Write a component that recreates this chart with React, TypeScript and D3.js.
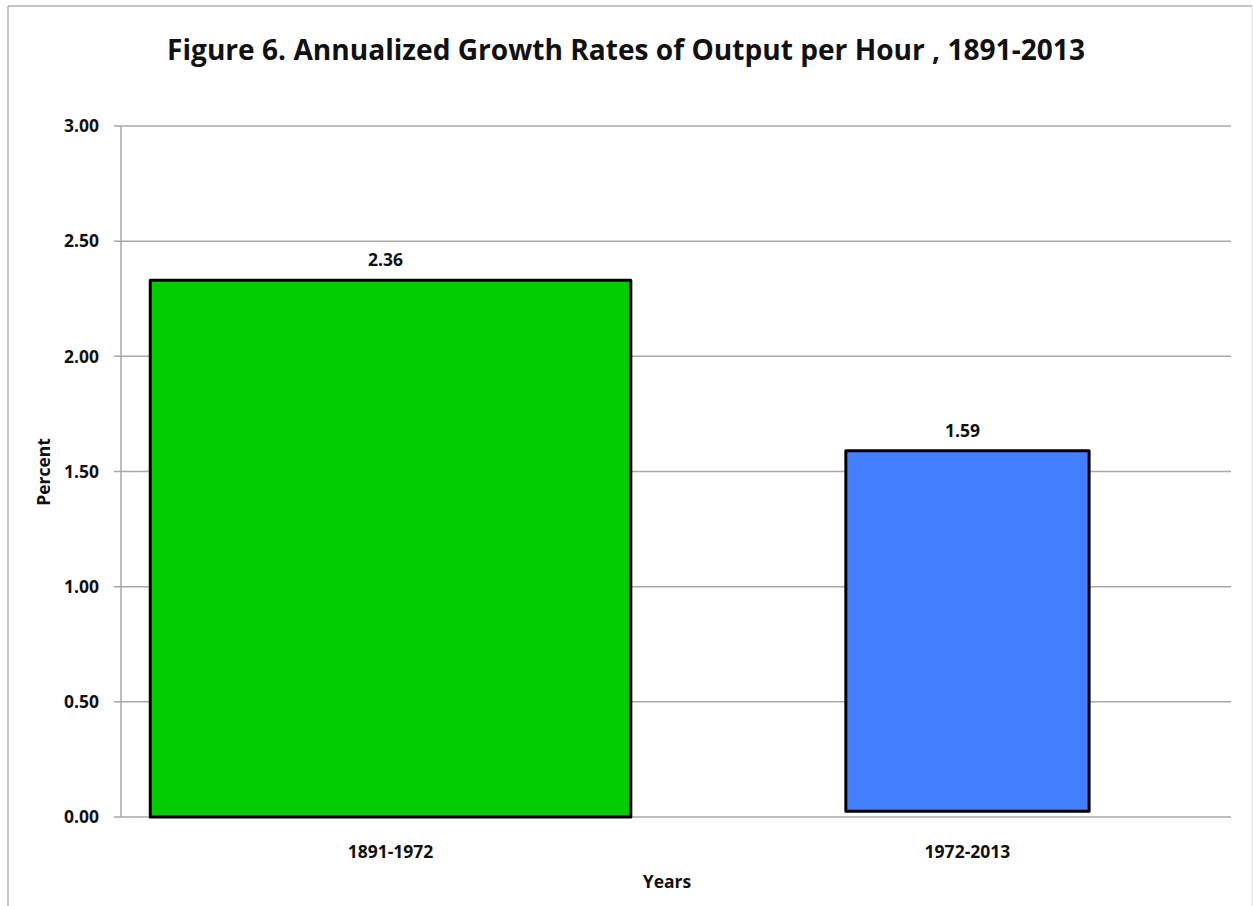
import React from "react";
import * as d3 from "d3";

const TITLE = "Figure 6. Annualized Growth Rates of Output per Hour , 1891-2013";
const categories = ["1891-1972", "1972-2013"];
const valueLabels = [2.36, 1.59];
const barTops = [2.33, 1.59];
const barBases = [0, 0.025];
const barColors = ["#00CC00", "#437EFF"];
const yTicks = [0, 0.5, 1, 1.5, 2, 2.5, 3];
const Y_LABEL = "Percent";
const X_LABEL = "Years";

const W = 1253;
const H = 906;
const M = { left: 121, right: 1231, top: 126, bottom: 817 };
const FONT = "'Open Sans', 'DejaVu Sans', sans-serif";

export default function App() {
  const y = d3.scaleLinear().domain([0, 3]).range([M.bottom, M.top]);
  const x = d3.scalePoint<string>().domain(categories).range([M.left + 3, M.right + 3]).padding(0.462);
  const step = x.step();
  const spans = categories.map((c) => {
    const [a, b] = c.split("-").map(Number);
    return b - a;
  });
  const maxSpan = d3.max(spans) as number;
  const widthOf = (i: number) => (spans[i] / maxSpan) * step * 0.833;

  return (
    <svg
      width={W}
      height={H}
      style={{ position: "absolute", left: 0, top: 0, background: "#fff" }}
      fontFamily={FONT}
    >
      {/* outer border */}
      <line x1={8} y1={6} x2={1252} y2={6} stroke="#b0b0b0" strokeWidth={1.5} />
      <line x1={8} y1={6} x2={8} y2={H} stroke="#b0b0b0" strokeWidth={1.5} />
      <line x1={1252} y1={6} x2={1252} y2={H} stroke="#d8d8d8" strokeWidth={1} />

      <text
        x={626}
        y={60}
        textAnchor="middle"
        fontSize={28.5}
        fontWeight="bold"
        textLength={918}
        lengthAdjust="spacingAndGlyphs"
        fill="#111"
      >
        {TITLE}
      </text>

      {/* gridlines and y ticks */}
      {yTicks.map((t) => (
        <g key={t}>
          <line x1={M.left - 7} x2={M.right} y1={y(t)} y2={y(t)} stroke="#a8a8a8" strokeWidth={1.5} />
          <text
            x={99}
            y={y(t)}
            dy="0.36em"
            textAnchor="end"
            fontSize={17.5}
            fontWeight="bold"
            fill="#111"
          >
            {t.toFixed(2)}
          </text>
        </g>
      ))}
      <line x1={M.left} x2={M.left} y1={M.top} y2={M.bottom} stroke="#a8a8a8" strokeWidth={1.5} />

      {/* bars */}
      {categories.map((c, i) => {
        const cx = x(c) as number;
        const w = widthOf(i);
        return (
          <g key={c}>
            <rect
              x={cx - w / 2}
              y={y(barTops[i])}
              width={w}
              height={y(barBases[i]) - y(barTops[i])}
              fill={barColors[i]}
              stroke="#000"
              strokeWidth={3}
              strokeLinejoin="round"
            />
            <text
              x={cx - 5}
              y={y(barTops[i]) - 14}
              textAnchor="middle"
              fontSize={17.5}
              fontWeight="bold"
              fill="#111"
            >
              {valueLabels[i].toFixed(2)}
            </text>
            <text
              x={cx}
              y={858}
              textAnchor="middle"
              fontSize={17.5}
              fontWeight="bold"
              fill="#111"
            >
              {c}
            </text>
          </g>
        );
      })}

      <text x={667} y={888} textAnchor="middle" fontSize={17.5} fontWeight="bold" fill="#111">
        {X_LABEL}
      </text>
      <text
        transform={`translate(50, ${472}) rotate(-90)`}
        textAnchor="middle"
        fontSize={17.5}
        fontWeight="bold"
        fill="#111"
      >
        {Y_LABEL}
      </text>
    </svg>
  );
}
